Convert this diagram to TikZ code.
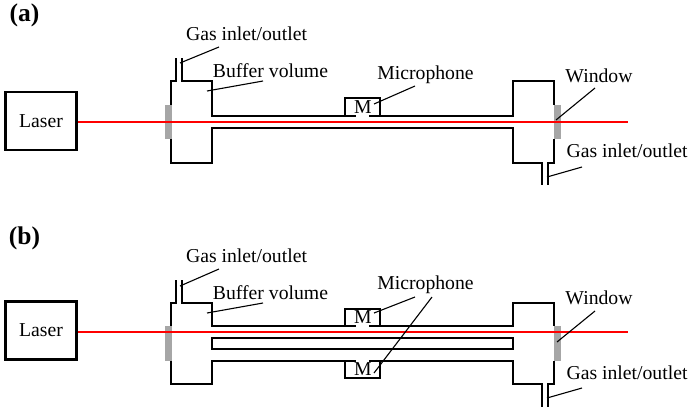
\documentclass[tikz,border=0pt]{standalone}
\usepackage{fontspec}
\setmainfont{Liberation Serif}
\usepackage{tikz}
\definecolor{beamred}{RGB}{255,0,0}
\definecolor{wingrey}{RGB}{166,166,166}
\begin{document}
\begin{tikzpicture}[x=1pt,y=-1pt,
  every node/.style={font=\fontsize{19.7}{21}\selectfont,inner sep=0pt},
  wall/.style={draw=black,line width=2.3pt,line join=miter},
  beam/.style={draw=beamred,line width=2.3pt},
  pane/.style={fill=wingrey,draw=none},
  lead/.style={draw=black,line width=1.1pt},
  box/.style={draw=black,line width=2.3pt,minimum width=71pt,minimum height=58pt},
  tag/.style={font=\fontsize{25.5}{27}\selectfont\bfseries}]
\useasboundingbox (0,0) rectangle (690,408);

% panel a
\node[tag] (ta) at (24.5,15) {(a)};
\node[box] (la) at (41,121) {Laser};
\coordinate (ea) at (628,122);

\draw[wall] (176,58) -- (176,81) -- (171,81) -- (171,105);
\draw[wall] (171,139) -- (171,163) -- (212,163) -- (212,128) -- (513,128) -- (513,163)
  -- (542,163) -- (542,185);
\draw[wall] (182,58) -- (182,81) -- (212,81) -- (212,116) -- (356,116);
\draw[wall] (345,116) -- (345,98) -- (380,98) -- (380,116);
\draw[wall] (369,116) -- (513,116) -- (513,81) -- (554,81) -- (554,105);
\draw[wall] (554,139) -- (554,163) -- (548,163) -- (548,185);
\fill[pane] (165,105) rectangle (171.5,139);
\fill[pane] (554,105) rectangle (560.5,139);
\draw[beam] (la.east |- ea) -- (ea);

\node (ma) at (363,107) {M};
\node (ga) at (246.5,34) {Gas inlet/outlet};
\node (ba) at (270.5,71) {Buffer volume};
\node (pa) at (425.5,75) {Microphone};
\node (wa) at (599,76) {Window};
\node (oa) at (627,151) {Gas inlet/outlet};

\coordinate (g1) at (219,47); \coordinate (g2) at (180,63);
\coordinate (b1) at (263,81); \coordinate (b2) at (207,91);
\coordinate (p1) at (415,86); \coordinate (p2) at (374,104);
\coordinate (w1) at (595,88); \coordinate (w2) at (556,120);
\coordinate (o1) at (582,167); \coordinate (o2) at (547,177);
\foreach \a/\b in {g1/g2,b1/b2,p1/p2,w1/w2,o1/o2} \draw[lead] (\a) -- (\b);

% panel b
\node[tag] (tb) at (24.5,238) {(b)};
\node[box] (lb) at (41,330.5) {Laser};
\coordinate (eb) at (628,332);

\draw[wall] (176,280) -- (176,303) -- (171,303) -- (171,326);
\draw[wall] (171,361) -- (171,384) -- (212,384) -- (212,361) -- (356,361);
\draw[wall] (369,361) -- (513,361) -- (513,384) -- (542,384) -- (542,407);
\draw[wall] (182,280) -- (182,303) -- (212,303) -- (212,326) -- (356,326);
\draw[wall] (345,326) -- (345,309) -- (380,309) -- (380,326);
\draw[wall] (345,361) -- (345,378) -- (380,378) -- (380,361);
\draw[wall] (369,326) -- (513,326) -- (513,303) -- (554,303) -- (554,326);
\draw[wall] (554,361) -- (554,384) -- (548,384) -- (548,407);
\draw[wall] (212,338) rectangle (513,349);
\fill[pane] (165,326) rectangle (171.5,361);
\fill[pane] (554,326) rectangle (560.5,361);
\draw[beam] (lb.east |- eb) -- (eb);

\node (mb) at (363,317) {M};
\node (mc) at (363,369) {M};
\node (gb) at (246.5,256) {Gas inlet/outlet};
\node (bb) at (270.5,293) {Buffer volume};
\node (pb) at (425.5,285) {Microphone};
\node (wb) at (599,298) {Window};
\node (ob) at (627,373) {Gas inlet/outlet};

\coordinate (h1) at (219,269); \coordinate (h2) at (180,286);
\coordinate (c1) at (263,303); \coordinate (c2) at (207,313);
\coordinate (q1) at (415,297); \coordinate (q2) at (374,313);
\coordinate (r1) at (432,297); \coordinate (r2) at (374,373);
\coordinate (x1) at (595,311); \coordinate (x2) at (557,342);
\coordinate (y1) at (582,388); \coordinate (y2) at (547,398);
\foreach \a/\b in {h1/h2,c1/c2,q1/q2,r1/r2,x1/x2,y1/y2} \draw[lead] (\a) -- (\b);
\end{tikzpicture}
\end{document}
